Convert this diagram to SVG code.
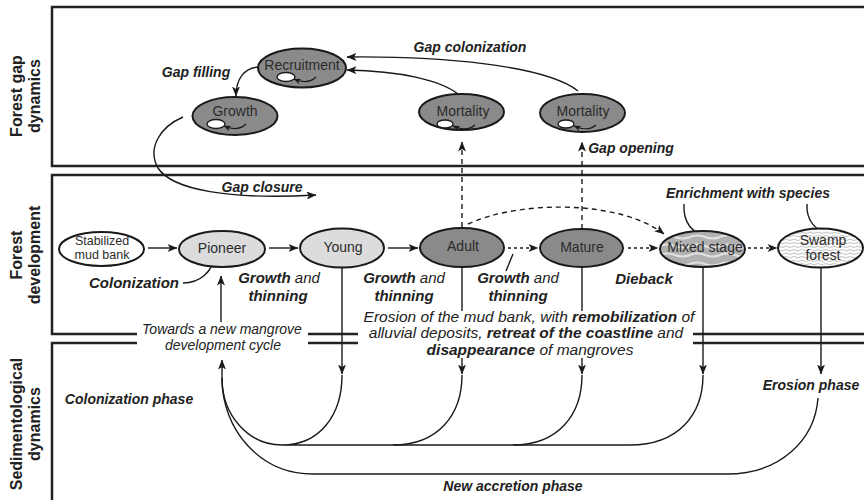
<svg xmlns="http://www.w3.org/2000/svg" width="864" height="500" viewBox="0 0 864 500">
<style>
text{font-family:"Liberation Sans",Arial,sans-serif;fill:#222}
.row{font-size:16px;font-weight:bold;text-anchor:middle}
.nt{font-size:14px;text-anchor:middle;fill:#2b2b2b}
.ns{font-size:12.5px;text-anchor:middle;fill:#2b2b2b}
.lb{font-size:14px;font-weight:bold;font-style:italic;text-anchor:middle}
.lb15{font-size:15px;font-style:italic;text-anchor:middle}
.it{font-size:14px;font-style:italic;text-anchor:middle}
.er{font-size:15.5px;font-style:italic;text-anchor:middle}
.b{font-weight:bold}
.dk{fill:#8a8a8a;stroke:#1a1a1a;stroke-width:2}
.lt{fill:#dcdcdc;stroke:#1a1a1a;stroke-width:2}
.wh{fill:#fff;stroke:#1a1a1a;stroke-width:2}
.ic{fill:#fff;stroke:#1a1a1a;stroke-width:1.3}
.ia{fill:none;stroke:#1a1a1a;stroke-width:1.2;marker-end:url(#sm)}
.c{fill:none;stroke:#1a1a1a;stroke-width:1.4}
.a{marker-end:url(#ah)}
.d{stroke-dasharray:5 4}
.dt{stroke-dasharray:3 3}
</style>
<defs>
<marker id="ah" viewBox="0 0 10 8" refX="9.5" refY="4" markerWidth="10" markerHeight="8" markerUnits="userSpaceOnUse" orient="auto">
<path d="M0 0 L10 4 L0 8 L2.5 4 Z" fill="#1a1a1a"/>
</marker>
<marker id="sm" viewBox="0 0 10 8" refX="9.5" refY="4" markerWidth="7" markerHeight="5.6" markerUnits="userSpaceOnUse" orient="auto">
<path d="M0 0 L10 4 L0 8 L2.5 4 Z" fill="#1a1a1a"/>
</marker>
<pattern id="mix" patternUnits="userSpaceOnUse" width="30" height="9">
<rect width="30" height="9" fill="#b0b0b0"/>
<path d="M0 3 Q7.5 0 15 3 T30 3" fill="none" stroke="#e2e2e2" stroke-width="2.2"/>
</pattern>
<pattern id="swp" patternUnits="userSpaceOnUse" width="8" height="3.5">
<rect width="8" height="3.5" fill="#fff"/>
<path d="M0 1.75 Q2 0.4 4 1.75 T8 1.75" fill="none" stroke="#9a9a9a" stroke-width="0.7"/>
</pattern>
</defs>

<g id="panels" fill="none" stroke="#222" stroke-width="2.5">
<path d="M864 7 H52 V166 H864"/>
<path d="M864 175 H52 V334 H137 M308 334 H358 M693 334 H864"/>
<path d="M137 343 H52 V500 M308 343 H358 M693 343 H864"/>
</g>

<g id="row-labels">
<text class="row" transform="translate(22,96) rotate(-90)">Forest gap</text>
<text class="row" transform="translate(40,96) rotate(-90)">dynamics</text>
<text class="row" transform="translate(22,255) rotate(-90)">Forest</text>
<text class="row" transform="translate(40,255) rotate(-90)">development</text>
<text class="row" transform="translate(22,424) rotate(-90)">Sedimentological</text>
<text class="row" transform="translate(40,424) rotate(-90)">dynamics</text>
</g>

<g id="connectors">
<path class="c a" d="M258 67 C245 68 236 78 236 96"/>
<path class="c a" d="M578 91 C545 65 440 56 347 57"/>
<path class="c a" d="M458 94 C440 80 400 71 347 70"/>
<path class="c a d" d="M462 227 V142"/>
<path class="c a d" d="M582 229 V142"/>
<path class="c a d" d="M468 224 C520 200 620 200 664 234"/>
<path class="c a" d="M183 117 C160 127 147 148 158 168 C172 190 230 200 316 195"/>
<path class="c a" d="M148 248 H177"/>
<path class="c a" d="M269 248 H298"/>
<path class="c a" d="M388 248 H418"/>
<path class="c a dt" d="M508 248 H538"/>
<path class="c a dt" d="M628 248 H658"/>
<path class="c a dt" d="M748 248 H777"/>
<path class="c" d="M506 271 L513 254"/>
<path class="c a" d="M183 283 C200 283 212 272 215 256"/>
<path class="c a" d="M684 204 C683 225 693 231 706 239"/>
<path class="c a" d="M807 204 C806 222 816 229 829 236"/>
<path class="c a" d="M221 322 V276"/>
<path class="c a" d="M342 268 V374"/>
<path class="c" d="M462 268 V311"/>
<path class="c a" d="M462 358 V374"/>
<path class="c" d="M582 268 V311"/>
<path class="c a" d="M582 358 V374"/>
<path class="c a" d="M703 268 V374"/>
<path class="c a" d="M821 268 V374"/>
<path class="c" d="M342 375 C342 415 320 445 282 445 H630"/>
<path class="c" d="M462 375 C462 415 438 445 393 445"/>
<path class="c" d="M582 375 C582 415 558 445 513 445"/>
<path class="c" d="M703 375 C703 415 678 445 630 445"/>
<path class="c" d="M282 445 C249 445 222 416 222 378"/>
<path class="c" d="M222 378 C222 430 260 474 313 474 H727 C780 474 815 440 818 398"/>
<path class="c a" d="M222 378 V360"/>
</g>

<g id="recruitment">
<ellipse class="dk" cx="302" cy="68" rx="44" ry="19.5"/>
<text class="nt" x="302" y="70">Recruitment</text>
<ellipse class="ic" cx="286" cy="77" rx="9" ry="4.5"/>
<path class="ia" d="M316 77 Q308 85 294 79"/>
</g>
<g id="growth">
<ellipse class="dk" cx="235" cy="116" rx="42.5" ry="19"/>
<text class="nt" x="235" y="116">Growth</text>
<ellipse class="ic" cx="216" cy="124" rx="9" ry="4.5"/>
<path class="ia" d="M246 124 Q238 132 224 126"/>
</g>
<g id="mortality1">
<ellipse class="dk" cx="461.5" cy="112" rx="42.5" ry="18"/>
<text class="nt" x="463" y="116">Mortality</text>
<ellipse class="ic" cx="445" cy="124" rx="8" ry="4"/>
<path class="ia" d="M475 125 Q467 132 453 126"/>
</g>
<g id="mortality2">
<ellipse class="dk" cx="582.5" cy="113" rx="42.5" ry="19"/>
<text class="nt" x="583" y="116">Mortality</text>
<ellipse class="ic" cx="566" cy="124" rx="8" ry="4"/>
<path class="ia" d="M596 125 Q588 132 574 126"/>
</g>

<g id="stabilized">
<ellipse class="wh" cx="101.5" cy="249" rx="42.5" ry="17"/>
<text class="ns" x="102" y="244.5">Stabilized</text>
<text class="ns" x="102" y="259">mud bank</text>
</g>
<g id="pioneer">
<ellipse class="lt" cx="222" cy="249" rx="43" ry="18"/>
<text class="nt" x="222" y="253">Pioneer</text>
</g>
<g id="young">
<ellipse class="lt" cx="342" cy="248" rx="42" ry="19.5"/>
<text class="nt" x="343" y="252">Young</text>
</g>
<g id="adult">
<ellipse class="dk" cx="462" cy="247.5" rx="42" ry="19.5"/>
<text class="nt" x="463" y="251">Adult</text>
</g>
<g id="mature">
<ellipse class="dk" cx="581.5" cy="248" rx="41.5" ry="19"/>
<text class="nt" x="582" y="252">Mature</text>
</g>
<g id="mixed">
<ellipse cx="702.5" cy="249" rx="42.5" ry="18" fill="url(#mix)" stroke="#1a1a1a" stroke-width="2"/>
<text class="nt" x="705" y="252">Mixed stage</text>
</g>
<g id="swamp">
<ellipse cx="820.5" cy="248" rx="42.5" ry="19.5" fill="url(#swp)" stroke="#1a1a1a" stroke-width="2"/>
<text class="nt" x="823" y="245">Swamp</text>
<text class="nt" x="823" y="260">forest</text>
</g>

<g id="labels">
<text class="lb" x="196" y="77">Gap filling</text>
<text class="lb" x="470" y="52">Gap colonization</text>
<text class="lb" x="631" y="153">Gap opening</text>
<text class="lb" x="262" y="192">Gap closure</text>
<text class="lb" x="748" y="198">Enrichment with species</text>
<text class="lb15 b" x="134" y="288">Colonization</text>
<text class="lb15" x="279" y="283"><tspan class="b">Growth</tspan> and</text>
<text class="lb15 b" x="278" y="301">thinning</text>
<text class="lb15" x="404" y="283"><tspan class="b">Growth</tspan> and</text>
<text class="lb15 b" x="404" y="301">thinning</text>
<text class="lb15" x="518" y="283"><tspan class="b">Growth</tspan> and</text>
<text class="lb15 b" x="518" y="301">thinning</text>
<text class="lb15 b" x="644" y="284">Dieback</text>
<text class="it" x="222" y="333.5">Towards a new mangrove</text>
<text class="it" x="223" y="349.5">development cycle</text>
<text class="er" x="529" y="321.5">Erosion of the mud bank, with <tspan class="b">remobilization</tspan> of</text>
<text class="er" x="526" y="338">alluvial deposits, <tspan class="b">retreat of the coastline</tspan> and</text>
<text class="er" x="530" y="354.5"><tspan class="b">disappearance</tspan> of mangroves</text>
<text class="lb" x="129" y="404">Colonization phase</text>
<text class="lb" x="811" y="390">Erosion phase</text>
<text class="lb" x="513" y="491">New accretion phase</text>
</g>
</svg>
